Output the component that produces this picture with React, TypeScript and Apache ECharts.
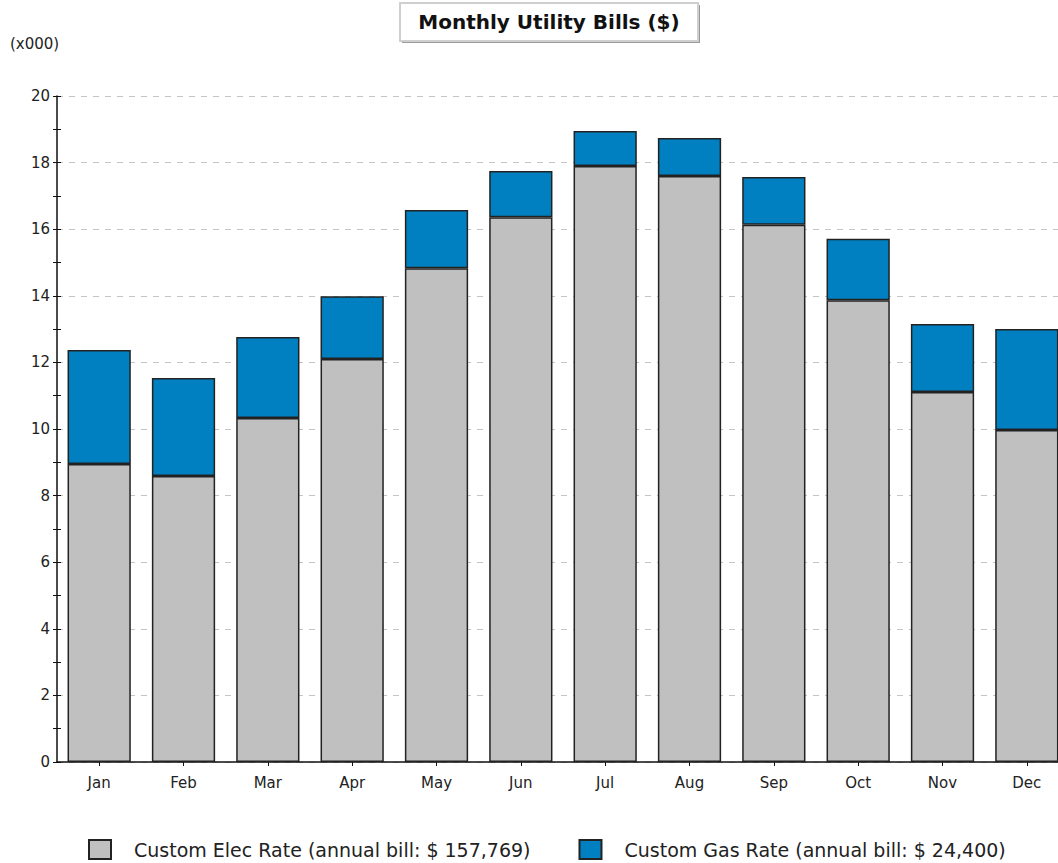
import React, { useEffect, useRef } from "react";
import * as echarts from "echarts";

// Monthly bills, in thousands of dollars
const months = ["Jan", "Feb", "Mar", "Apr", "May", "Jun", "Jul", "Aug", "Sep", "Oct", "Nov", "Dec"];
const elecValues = [8.95, 8.59, 10.33, 12.1, 14.83, 16.36, 17.9, 17.6, 16.13, 13.87, 11.11, 9.97];
const gasValues = [3.42, 2.94, 2.43, 1.89, 1.75, 1.39, 1.05, 1.14, 1.44, 1.84, 2.04, 3.03];
const seriesNames = [
  "Custom Elec Rate (annual bill: $ 157,769)",
  "Custom Gas Rate (annual bill: $ 24,400)",
];
const titleText = "Monthly Utility Bills ($)";
const unitText = "(x000)";

const FONT = "DejaVu Sans";

export default function App() {
  const ref = useRef<HTMLDivElement>(null);

  useEffect(() => {
    if (!ref.current) return;
    const chart = echarts.init(ref.current, undefined, { renderer: "svg" });

    const valueAxisBase = {
      type: "value",
      min: 0,
      max: 20,
      interval: 2,
      position: "left",
    };

    chart.setOption({
      animation: false,
      backgroundColor: "#ffffff",
      // the plot runs a little past the right edge of the canvas
      grid: {
        left: 57,
        width: 1012,
        top: 96,
        bottom: 101,
        containLabel: false,
        outerBoundsMode: "none",
      },
      legend: {
        left: 88,
        top: 839,
        padding: 0,
        itemWidth: 22,
        itemHeight: 19,
        itemGap: 48,
        icon: "rect",
        textStyle: {
          fontFamily: FONT,
          fontSize: 19,
          color: "#222",
          padding: [0, 0, 0, 18],
        },
        data: seriesNames,
      },
      xAxis: {
        type: "category",
        data: months,
        boundaryGap: true,
        axisLine: { show: true, lineStyle: { color: "#111", width: 1.5 } },
        axisTick: { show: true, alignWithLabel: true, length: 4, lineStyle: { color: "#111" } },
        axisLabel: { fontFamily: FONT, fontSize: 15, color: "#222", margin: 13 },
        splitLine: { show: false },
      },
      yAxis: [
        {
          ...valueAxisBase,
          axisLine: { show: true, lineStyle: { color: "#111", width: 1.5 } },
          axisTick: { show: true, length: 4, lineStyle: { color: "#111" } },
          minorTick: { show: true, splitNumber: 2, length: 4, lineStyle: { color: "#111" } },
          axisLabel: { fontFamily: FONT, fontSize: 15, color: "#222", margin: 7 },
          splitLine: { show: true, lineStyle: { color: "#c4c4c4", type: [6, 6], width: 1 } },
        },
        {
          ...valueAxisBase,
          axisLine: { show: false },
          axisTick: { show: true, inside: true, length: 4, lineStyle: { color: "#111" } },
          minorTick: { show: true, splitNumber: 2, length: 4, lineStyle: { color: "#111" } },
          axisLabel: { show: false },
          splitLine: { show: false },
        },
      ],
      series: [
        {
          name: seriesNames[0],
          type: "bar",
          stack: "bill",
          barWidth: "75%",
          data: elecValues,
          itemStyle: { color: "#c0c0c0", borderColor: "#222", borderWidth: 1.5 },
        },
        {
          name: seriesNames[1],
          type: "bar",
          stack: "bill",
          barWidth: "75%",
          data: gasValues,
          itemStyle: { color: "#0080c0", borderColor: "#222", borderWidth: 1.5 },
        },
      ],
      graphic: [
        {
          type: "rect",
          shape: { x: 402, y: 5, width: 298, height: 38 },
          style: { fill: "#9a9a9a" },
          silent: true,
        },
        {
          type: "rect",
          shape: { x: 400, y: 3, width: 298, height: 38 },
          style: { fill: "#ffffff", stroke: "#cfcfcf", lineWidth: 2 },
          silent: true,
        },
        {
          type: "text",
          x: 549,
          y: 22,
          style: {
            text: titleText,
            fontFamily: FONT,
            fontSize: 20,
            fontWeight: "bold",
            fill: "#111",
            align: "center",
            verticalAlign: "middle",
          },
        },
        {
          type: "text",
          x: 10,
          y: 44,
          style: {
            text: unitText,
            fontFamily: FONT,
            fontSize: 15,
            fill: "#222",
            align: "left",
            verticalAlign: "middle",
          },
        },
      ],
    });

    return () => chart.dispose();
  }, []);

  return (
    <div
      ref={ref}
      style={{ position: "absolute", left: 0, top: 0, width: 1058, height: 863 }}
    />
  );
}
